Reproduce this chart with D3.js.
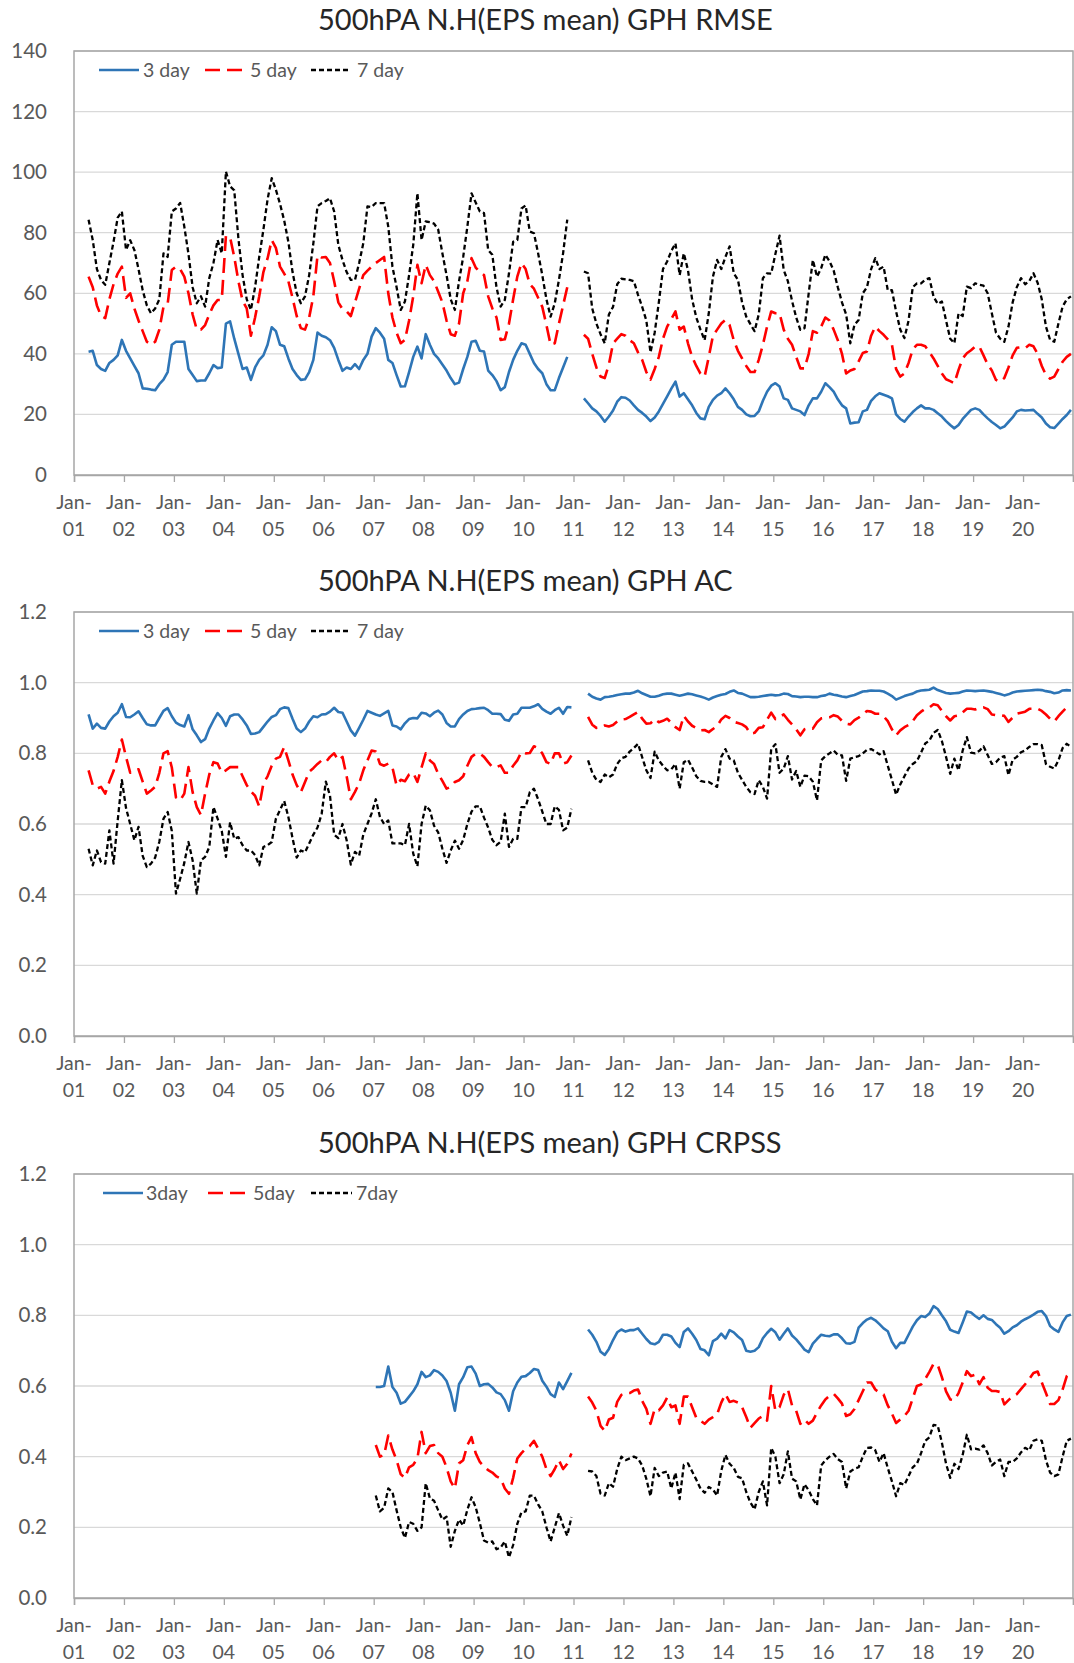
<!DOCTYPE html>
<html>
<head>
<meta charset="utf-8">
<script src="https://cdn.jsdelivr.net/npm/d3@7/dist/d3.min.js"></script>
<style>
  html, body { margin: 0; padding: 0; background: #fff; }
  svg { display: block; }
  text { font-family: Lato, "Open Sans", sans-serif; }
</style>
</head>
<body>
<svg id="chart" width="1074" height="1663"></svg>
<script>
// ---------------- DATA ----------------
// x axis: monthly data, Jan 2001 .. Dec 2020
const xTickLabels = ["Jan-01","Jan-02","Jan-03","Jan-04","Jan-05","Jan-06","Jan-07","Jan-08","Jan-09","Jan-10",
                     "Jan-11","Jan-12","Jan-13","Jan-14","Jan-15","Jan-16","Jan-17","Jan-18","Jan-19","Jan-20"];
const axisStart = "2001-01", axisEnd = "2021-01";

const titles = ["500hPA N.H(EPS mean) GPH RMSE", "500hPA N.H(EPS mean) GPH AC", "500hPA N.H(EPS mean) GPH CRPSS"];
const legendNames = [["3 day","5 day","7 day"], ["3 day","5 day","7 day"], ["3day","5day","7day"]];
const rmseTicks = [0,20,40,60,80,100,120,140];
const acTicks = [0,0.2,0.4,0.6,0.8,1.0,1.2];
const crpssTicks = [0,0.2,0.4,0.6,0.8,1.0,1.2];

// ---- RMSE ----
const rmseStartA = "2001-04", rmseStartB = "2011-03";
const rmse3A = [40.7,41,36.3,35,34.4,37,38,39.5,44.6,
 41,38.5,36,33.6,28.6,28.5,28.2,28,30,31.5,34,43,
 44,44,44,35,33,31,31.2,31.2,33.6,36.3,35.3,35.5,
 50,50.7,45,40,35,35.5,31.4,35.5,38,39.5,43,48.8,
 47.5,43,42.5,38.5,35,33,31.4,31.6,34,38,47,46,
 45.5,44.5,42,38,34.4,35.5,35,36.6,35,38,40,45.7,
 48.5,47,45,38,37,33,29.2,29.3,34,39,42.4,38.5,
 46.5,43,40,38.5,36.5,34.5,32,30,30.5,35,39,44,
 44.3,41,40.8,34.5,33,31,28,29,34,38,41,43.5,
 43,40,37,35,33.6,30,28,28,32,35.5,39];
const rmse5A = [65.5,62,56,52.5,51.8,58,63,66.5,68.8,
 58.5,60,55,51,47.5,44,43,44,48,55.5,56.5,67.7,
 68.8,68,65.5,60,53,48,48,49.5,53,56,57.8,57.8,
 79,78.5,72,64,57.5,55,46,52,59,67,71.5,77.6,
 75,68.8,66.5,64,58.5,52.5,48.5,48,52,59,72.5,71.8,
 72,70,64,57,54.8,54,52.5,57,61.5,66,67.5,68.8,
 70,71,72,60,52,47,43.5,44.6,51,59,69.4,63.3,
 69.4,66,64,60.5,57,51,46.5,46,50,60,64,71.6,
 68.5,67,66,59,55,52,44.6,44.8,50,58,65.5,70,
 68,63,61.5,58.5,55.5,49.5,43,43.5,50,56,62];
const rmse7A = [84.3,77.6,68,64.4,62.8,70,77,85,87,
 74.3,77.5,74.3,68,61,56,53.4,55,58,73.2,72,87,
 88,89.8,82,73,62,56.7,59,55.6,65,70,77.6,73.2,
 100.2,95.3,94,78,66,58,54.5,62,72,81,91,98,
 94.2,89.5,84,77,67,60,56.7,59,66,76.5,88.7,89.8,
 90.5,91.4,87,76,71,67,64.4,64.4,70,76.5,88.7,88.5,
 89.8,89.8,89.8,82,68.8,62,54.5,57.3,66,76,93,77.6,
 83.7,83.5,83,81,73.2,66,58,54.5,64,72,82,93,
 90,87,86.5,74.3,72.7,62,55.6,57.8,66.6,77,77.6,88,
 89,80.4,79.8,73.2,66,58,52.3,56.7,64.4,73.2,84.3];
const rmse3B = [25.3,23.7,22,21,19.5,17.6,19.3,21.3,24.2,25.7,
 25.5,24.6,23,21.5,20.5,19.3,17.8,19,21,23.5,26,28.5,
 30.8,25.9,27,25,23,20.5,18.7,18.4,22.5,24.8,26.2,27,
 28.6,27,25,22.5,21.5,20,19.4,19.5,21,24.5,27.5,29.5,
 30.3,29.2,25.3,24.8,22,21.5,21,19.8,23,25.3,25.3,27.5,
 30.3,29,27.5,25,23,22,17,17.3,17.4,21,21.5,24.5,
 26,27,26.5,26,25.3,20,18.5,17.6,19.3,20.8,22,23,
 22,22,21.5,20.4,19.3,17.8,16.5,15.4,16.5,18.5,20,21.5,
 22,21.5,20,18.7,17.5,16.5,15.4,16,17.5,19,21,21.5,
 21.3,21.4,21.5,20.2,19,17,15.8,15.5,17,18.5,19.8,21.5];
const rmse5B = [46.3,45,40,35.5,32.5,32,36.5,43.5,45,46.5,
 46,44.5,43.5,40.5,38,34,31.5,35,39,45,49,51.5,
 54,48,49,43.5,39,36,33.5,32.5,39,46,48,50,
 51.2,49.5,44.5,41,38.5,36,34,34,38,43,49,54,
 53.4,53.4,48,45,43,39,35.2,35.2,40,47.5,47,49,
 52,51,48,44.5,40,33.5,34.5,35,37.5,40.3,40.8,46,
 49,47.5,46.3,44.8,43,35,32.5,33.5,37,41.5,43,43,
 42.5,40.5,38.5,36,33.5,31.6,31,30.3,34.7,38.5,40.2,41.2,
 42.4,42.4,39.5,36.5,34.5,31.4,30.8,32,35.5,39.5,42,42.2,
 41.9,43,42.5,40,36,33,31.8,32.5,35,37.4,39,40];
const rmse7B = [67.2,66.6,55,50,46.5,43.5,53,55.5,63,64.8,
 64.6,64.4,64,59.5,55.5,51,40.5,47,57,68,70.5,74,
 76.5,66,73.2,67.7,58,52,48,44.5,53.4,65.5,71,68,
 72,75.5,66.6,64.5,57,52.3,49.8,47.5,53,65,66.6,66.5,
 73,79,67.7,64,57.5,52,47.9,48.5,60,71,65.5,68.3,
 72.7,70.6,67.5,62,57,53,43.5,49.6,51.2,60,62,68,
 71.6,68,68.8,61,61,54,48,45.2,51,62,63.3,63.3,
 64.5,65,58.9,56.5,57.3,51,45,43.5,53.4,52.5,62.2,61.7,
 63.3,62.8,62.5,60,53.4,47,45,44,49,57,62,65,
 63,64,66.6,63.5,58,49,44.6,44,50,55.6,58,59];

// ---- AC ----
const acStartA = "2001-04", acStartB = "2011-04";
const ac3A = [0.910,0.870,0.884,0.872,0.870,0.890,0.905,0.915,0.939,
 0.903,0.902,0.910,0.919,0.900,0.882,0.879,0.879,0.900,0.920,0.928,0.905,
 0.887,0.880,0.876,0.908,0.868,0.851,0.832,0.840,0.870,0.893,0.914,0.900,
 0.878,0.905,0.910,0.910,0.896,0.879,0.855,0.856,0.860,0.875,0.890,0.903,
 0.908,0.925,0.930,0.928,0.898,0.870,0.860,0.870,0.890,0.905,0.902,0.910,
 0.911,0.918,0.929,0.917,0.915,0.890,0.865,0.850,0.872,0.895,0.920,0.915,
 0.910,0.906,0.913,0.920,0.879,0.876,0.868,0.885,0.897,0.900,0.899,0.915,
 0.913,0.905,0.915,0.921,0.910,0.886,0.876,0.876,0.897,0.910,0.920,0.925,
 0.926,0.928,0.929,0.922,0.912,0.912,0.911,0.895,0.892,0.910,0.912,0.929,
 0.929,0.929,0.933,0.939,0.926,0.918,0.912,0.922,0.929,0.912,0.931,0.930];
const ac5A = [0.752,0.710,0.700,0.705,0.686,0.720,0.750,0.790,0.839,
 0.790,0.745,0.750,0.755,0.720,0.686,0.695,0.705,0.745,0.800,0.806,0.760,
 0.675,0.667,0.686,0.761,0.690,0.648,0.625,0.686,0.740,0.775,0.771,0.745,
 0.752,0.761,0.761,0.761,0.735,0.710,0.692,0.680,0.650,0.715,0.735,0.765,
 0.785,0.790,0.818,0.780,0.740,0.710,0.690,0.719,0.748,0.758,0.770,0.780,
 0.775,0.790,0.800,0.780,0.790,0.735,0.670,0.691,0.715,0.752,0.780,0.808,
 0.805,0.770,0.765,0.771,0.760,0.709,0.725,0.721,0.740,0.745,0.719,0.760,
 0.800,0.780,0.770,0.742,0.722,0.700,0.705,0.719,0.724,0.735,0.765,0.790,
 0.799,0.799,0.790,0.775,0.761,0.761,0.766,0.745,0.745,0.765,0.780,0.804,
 0.800,0.801,0.820,0.815,0.800,0.775,0.770,0.800,0.800,0.771,0.775,0.794];
const ac7A = [0.530,0.483,0.525,0.492,0.488,0.582,0.488,0.610,0.724,
 0.645,0.600,0.554,0.592,0.510,0.478,0.488,0.505,0.550,0.615,0.634,0.580,
 0.403,0.445,0.490,0.549,0.497,0.403,0.497,0.507,0.535,0.648,0.615,0.580,
 0.507,0.605,0.558,0.563,0.540,0.525,0.525,0.512,0.483,0.535,0.540,0.549,
 0.615,0.640,0.665,0.620,0.560,0.505,0.525,0.520,0.545,0.570,0.590,0.629,
 0.720,0.680,0.570,0.560,0.600,0.554,0.485,0.521,0.510,0.570,0.600,0.630,
 0.670,0.620,0.600,0.610,0.545,0.545,0.545,0.540,0.600,0.516,0.480,0.600,
 0.652,0.639,0.595,0.576,0.530,0.490,0.525,0.553,0.530,0.555,0.600,0.635,
 0.650,0.650,0.618,0.590,0.555,0.540,0.550,0.629,0.535,0.558,0.558,0.648,
 0.648,0.690,0.700,0.670,0.635,0.600,0.600,0.650,0.640,0.582,0.590,0.643];
const ac3B = [0.969,0.960,0.955,0.952,0.959,0.960,0.962,0.965,0.967,
 0.969,0.969,0.972,0.977,0.970,0.965,0.960,0.960,0.963,0.967,0.969,0.969,
 0.966,0.963,0.966,0.969,0.967,0.964,0.961,0.957,0.952,0.958,0.962,0.966,
 0.968,0.974,0.978,0.971,0.969,0.964,0.959,0.959,0.960,0.962,0.964,0.966,
 0.964,0.965,0.969,0.968,0.962,0.961,0.959,0.960,0.960,0.959,0.959,0.962,
 0.964,0.969,0.966,0.964,0.961,0.959,0.962,0.965,0.970,0.975,0.976,0.978,
 0.977,0.977,0.975,0.969,0.962,0.952,0.957,0.962,0.966,0.969,0.975,0.978,
 0.979,0.980,0.986,0.979,0.975,0.971,0.969,0.970,0.971,0.975,0.978,0.977,
 0.976,0.977,0.978,0.976,0.974,0.971,0.968,0.964,0.967,0.972,0.975,0.976,
 0.977,0.978,0.979,0.980,0.979,0.976,0.974,0.970,0.972,0.978,0.979,0.978];
const ac5B = [0.903,0.881,0.872,0.873,0.879,0.876,0.880,0.890,0.896,
 0.897,0.903,0.910,0.917,0.898,0.884,0.885,0.897,0.888,0.892,0.898,0.886,
 0.874,0.866,0.906,0.890,0.878,0.872,0.865,0.866,0.860,0.869,0.877,0.896,
 0.906,0.900,0.889,0.886,0.882,0.874,0.856,0.858,0.872,0.874,0.895,0.915,
 0.897,0.903,0.910,0.895,0.882,0.868,0.851,0.868,0.872,0.870,0.888,0.899,
 0.901,0.902,0.908,0.904,0.892,0.884,0.882,0.894,0.901,0.910,0.920,0.918,
 0.912,0.912,0.905,0.891,0.868,0.851,0.865,0.874,0.880,0.891,0.908,0.918,
 0.926,0.930,0.939,0.936,0.920,0.905,0.893,0.905,0.907,0.916,0.926,0.926,
 0.924,0.929,0.930,0.925,0.910,0.908,0.908,0.906,0.889,0.901,0.912,0.915,
 0.918,0.926,0.926,0.926,0.920,0.910,0.898,0.890,0.905,0.918,0.930,0.931];
const ac7B = [0.780,0.745,0.725,0.719,0.740,0.732,0.740,0.770,0.786,
 0.790,0.805,0.815,0.827,0.789,0.752,0.730,0.805,0.780,0.765,0.752,0.755,
 0.770,0.700,0.775,0.782,0.760,0.735,0.722,0.719,0.719,0.712,0.705,0.790,
 0.812,0.785,0.780,0.745,0.725,0.705,0.690,0.685,0.724,0.705,0.672,0.812,
 0.826,0.745,0.757,0.792,0.726,0.750,0.705,0.737,0.735,0.720,0.667,0.780,
 0.792,0.800,0.808,0.796,0.794,0.722,0.785,0.789,0.792,0.800,0.810,0.812,
 0.805,0.797,0.806,0.765,0.725,0.683,0.712,0.735,0.757,0.770,0.778,0.802,
 0.828,0.836,0.858,0.866,0.835,0.790,0.742,0.785,0.752,0.808,0.846,0.802,
 0.800,0.807,0.820,0.795,0.770,0.775,0.788,0.792,0.738,0.782,0.790,0.803,
 0.808,0.818,0.826,0.826,0.823,0.770,0.762,0.757,0.780,0.815,0.827,0.818];

// ---- CRPSS ----
const crStartA = "2007-01", crStartB = "2011-04";
const cr3A = [0.597,0.597,0.600,0.655,0.597,0.581,0.550,0.555,0.570,0.585,0.605,0.640,
 0.625,0.630,0.645,0.640,0.630,0.614,0.581,0.530,0.605,0.625,0.653,0.655,
 0.635,0.600,0.605,0.606,0.596,0.582,0.577,0.560,0.530,0.585,0.610,0.626,
 0.628,0.637,0.648,0.645,0.615,0.598,0.577,0.569,0.610,0.591,0.614,0.637];
const cr5A = [0.433,0.400,0.405,0.460,0.420,0.390,0.350,0.340,0.370,0.377,0.395,0.470,
 0.410,0.430,0.433,0.410,0.400,0.370,0.330,0.310,0.381,0.390,0.433,0.455,
 0.410,0.385,0.372,0.362,0.355,0.344,0.338,0.310,0.295,0.340,0.395,0.410,
 0.422,0.430,0.445,0.423,0.400,0.365,0.345,0.365,0.390,0.365,0.380,0.409];
const cr7A = [0.290,0.245,0.255,0.310,0.300,0.248,0.200,0.170,0.215,0.210,0.190,0.200,
 0.325,0.282,0.275,0.248,0.222,0.230,0.145,0.190,0.222,0.205,0.250,0.285,
 0.257,0.212,0.163,0.157,0.160,0.138,0.143,0.160,0.115,0.150,0.210,0.243,
 0.245,0.290,0.290,0.265,0.245,0.200,0.160,0.200,0.240,0.205,0.176,0.229];
const cr3B = [0.760,0.745,0.725,0.697,0.688,0.705,0.730,0.752,0.760,
 0.754,0.758,0.758,0.763,0.748,0.733,0.721,0.718,0.725,0.745,0.745,0.740,
 0.722,0.710,0.753,0.763,0.748,0.730,0.705,0.701,0.687,0.727,0.734,0.748,
 0.735,0.758,0.752,0.740,0.730,0.700,0.697,0.700,0.710,0.735,0.750,0.762,
 0.752,0.731,0.748,0.763,0.743,0.732,0.718,0.703,0.696,0.720,0.733,0.745,
 0.742,0.741,0.746,0.746,0.735,0.721,0.720,0.725,0.765,0.778,0.788,0.793,
 0.786,0.775,0.763,0.755,0.725,0.707,0.722,0.722,0.745,0.768,0.786,0.798,
 0.795,0.805,0.826,0.818,0.800,0.783,0.759,0.754,0.750,0.780,0.811,0.808,
 0.798,0.790,0.800,0.790,0.787,0.775,0.765,0.748,0.755,0.766,0.772,0.782,
 0.789,0.795,0.802,0.810,0.812,0.798,0.770,0.760,0.753,0.780,0.798,0.802];
const cr5B = [0.570,0.553,0.530,0.487,0.473,0.505,0.510,0.555,0.575,
 0.580,0.580,0.587,0.590,0.558,0.535,0.493,0.535,0.531,0.545,0.567,0.540,
 0.545,0.493,0.570,0.570,0.540,0.510,0.502,0.493,0.505,0.512,0.520,0.553,
 0.577,0.555,0.558,0.553,0.540,0.512,0.482,0.495,0.508,0.515,0.502,0.600,
 0.530,0.540,0.575,0.591,0.545,0.530,0.493,0.505,0.493,0.502,0.525,0.545,
 0.562,0.572,0.578,0.565,0.550,0.515,0.520,0.535,0.560,0.585,0.610,0.610,
 0.590,0.581,0.576,0.545,0.522,0.495,0.505,0.515,0.530,0.565,0.600,0.604,
 0.620,0.640,0.663,0.660,0.625,0.585,0.562,0.560,0.580,0.610,0.642,0.628,
 0.632,0.605,0.625,0.595,0.586,0.586,0.583,0.548,0.560,0.570,0.577,0.591,
 0.605,0.620,0.637,0.641,0.610,0.580,0.549,0.549,0.560,0.590,0.628,0.642];
const cr7B = [0.360,0.358,0.345,0.295,0.290,0.325,0.315,0.365,0.400,
 0.390,0.395,0.400,0.395,0.375,0.337,0.288,0.368,0.345,0.355,0.358,0.310,
 0.355,0.280,0.377,0.381,0.358,0.335,0.310,0.298,0.314,0.307,0.290,0.360,
 0.405,0.380,0.368,0.343,0.339,0.300,0.270,0.251,0.300,0.330,0.262,0.425,
 0.400,0.325,0.350,0.415,0.338,0.330,0.279,0.322,0.305,0.280,0.262,0.375,
 0.390,0.400,0.408,0.393,0.385,0.310,0.358,0.366,0.370,0.400,0.425,0.426,
 0.418,0.385,0.410,0.368,0.330,0.288,0.325,0.320,0.345,0.370,0.380,0.410,
 0.445,0.455,0.490,0.488,0.440,0.380,0.340,0.380,0.365,0.405,0.462,0.421,
 0.423,0.420,0.432,0.410,0.375,0.385,0.392,0.345,0.385,0.385,0.395,0.412,
 0.425,0.418,0.445,0.449,0.445,0.390,0.355,0.345,0.350,0.400,0.445,0.451];

// ---------------- STYLE / LAYOUT ----------------
const seriesStyle = [
  { color: "#2E75B6", width: 2.6, dash: null },
  { color: "#FF0000", width: 2.6, dash: "15,7" },
  { color: "#000000", width: 2.3, dash: "5,3" }
];
const plotLeft = 74, plotRight = 1073, plotH = 424;
const plotTops = [51, 612, 1174];

const monthIndex = s => { const [y, m] = s.split("-").map(Number); return (y - 2001) * 12 + (m - 1); };

const charts = [
  { title: titles[0], legend: legendNames[0], ticks: rmseTicks, fmt: d3.format("d"), yMax: 140,
    series: [[{start: rmseStartA, v: rmse3A}, {start: rmseStartB, v: rmse3B}],
             [{start: rmseStartA, v: rmse5A}, {start: rmseStartB, v: rmse5B}],
             [{start: rmseStartA, v: rmse7A}, {start: rmseStartB, v: rmse7B}]] },
  { title: titles[1], legend: legendNames[1], ticks: acTicks, fmt: d3.format(".1f"), yMax: 1.2,
    series: [[{start: acStartA, v: ac3A}, {start: acStartB, v: ac3B}],
             [{start: acStartA, v: ac5A}, {start: acStartB, v: ac5B}],
             [{start: acStartA, v: ac7A}, {start: acStartB, v: ac7B}]] },
  { title: titles[2], legend: legendNames[2], ticks: crpssTicks, fmt: d3.format(".1f"), yMax: 1.2,
    series: [[{start: crStartA, v: cr3A}, {start: crStartB, v: cr3B}],
             [{start: crStartA, v: cr5A}, {start: crStartB, v: cr5B}],
             [{start: crStartA, v: cr7A}, {start: crStartB, v: cr7B}]] }
];

const svg = d3.select("#chart");
const nMonths = monthIndex(axisEnd) - monthIndex(axisStart);
const x = d3.scaleLinear().domain([0, nMonths]).range([plotLeft, plotRight]);

charts.forEach((c, ci) => {
  const top = plotTops[ci];
  const y = d3.scaleLinear().domain([0, c.yMax]).range([top + plotH, top]);
  const g = svg.append("g");

  // title
  g.append("text").attr("x", 318).attr("y", top - 21)
    .attr("font-size", 29).attr("fill", "#262626").text(c.title);

  // gridlines
  g.append("g").selectAll("line").data(c.ticks.filter(t => t > 0)).join("line")
    .attr("x1", plotLeft).attr("x2", plotRight)
    .attr("y1", d => y(d)).attr("y2", d => y(d))
    .attr("stroke", "#d9d9d9").attr("stroke-width", 1.3);

  // plot border
  g.append("rect").attr("x", plotLeft).attr("y", top).attr("width", plotRight - plotLeft).attr("height", plotH)
    .attr("fill", "none").attr("stroke", "#a6a6a6").attr("stroke-width", 1.5);

  // y axis
  const ya = g.append("g").attr("transform", `translate(${plotLeft},0)`)
    .call(d3.axisLeft(y).tickValues(c.ticks).tickFormat(c.fmt).tickSize(0).tickPadding(27));
  ya.select(".domain").remove();
  ya.selectAll("text").attr("font-size", 20.5).attr("fill", "#595959").attr("font-family", "Lato, sans-serif");

  // x axis
  const xa = g.append("g").attr("transform", `translate(0,${top + plotH})`)
    .call(d3.axisBottom(x).tickValues(d3.range(0, nMonths + 1, 12)).tickSize(7).tickFormat(""));
  xa.select(".domain").attr("stroke", "#a6a6a6").attr("stroke-width", 1.5);
  xa.selectAll(".tick line").attr("stroke", "#a6a6a6").attr("stroke-width", 1.3);
  const lbl = xa.selectAll(".lbl").data(xTickLabels).join("text")
    .attr("class", "lbl").attr("text-anchor", "middle")
    .attr("font-size", 19.5).attr("fill", "#595959").attr("font-family", "Lato, sans-serif");
  lbl.append("tspan").attr("x", (d, i) => x(i * 12)).attr("y", 34).text(d => d.slice(0, 4));
  lbl.append("tspan").attr("x", (d, i) => x(i * 12)).attr("y", 61).text(d => d.slice(4));

  // series
  const line = d3.line().x(d => x(d.m + 0.5)).y(d => y(d.v));
  c.series.forEach((segs, si) => {
    const st = seriesStyle[si];
    segs.forEach(seg => {
      const s0 = monthIndex(seg.start);
      const pts = seg.v.map((v, i) => ({ m: s0 + i, v }));
      g.append("path").datum(pts).attr("d", line)
        .attr("fill", "none").attr("stroke", st.color).attr("stroke-width", st.width)
        .attr("stroke-linejoin", "round")
        .attr("stroke-dasharray", st.dash);
    });
  });

  // legend
  const ly = top + 19;
  const legX = ci === 2 ? [[103, 143, 146], [208, 249, 253], [311, 352, 356]]
                        : [[99, 139, 143], [205, 245, 250], [311, 351, 357]];
  c.legend.forEach((name, si) => {
    const st = seriesStyle[si];
    const [a, b, t] = legX[si];
    g.append("line").attr("x1", a).attr("x2", b).attr("y1", ly).attr("y2", ly)
      .attr("stroke", st.color).attr("stroke-width", st.width).attr("stroke-dasharray", st.dash);
    g.append("text").attr("x", t).attr("y", ly).attr("dy", "0.35em")
      .attr("font-size", 19.5).attr("fill", "#595959").text(name);
  });
});
</script>
</body>
</html>
